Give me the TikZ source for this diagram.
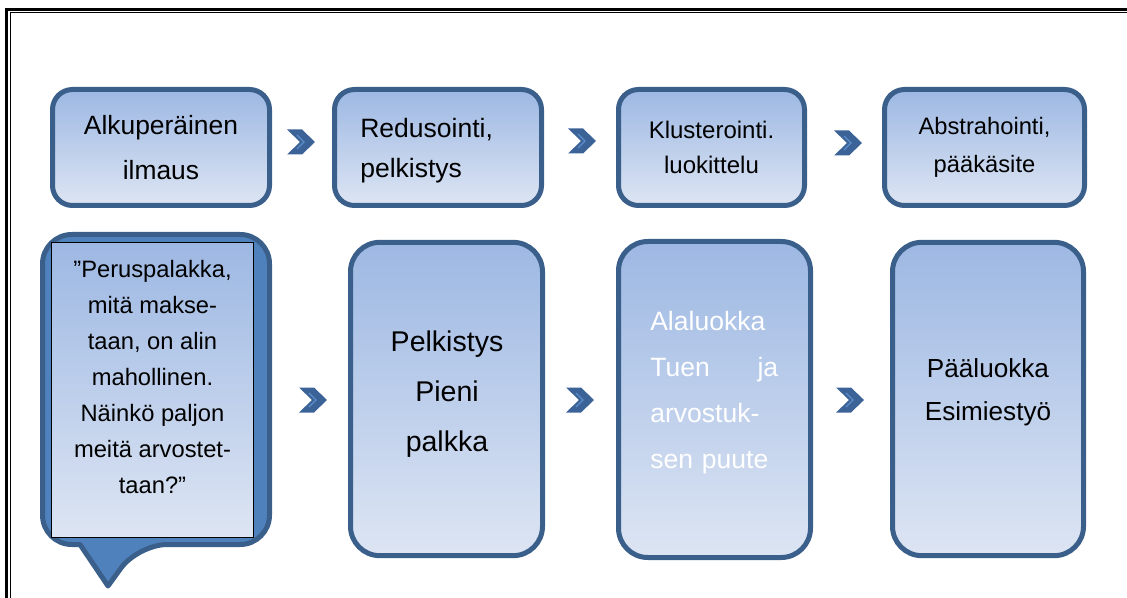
\documentclass[tikz,border=0pt]{standalone}
\usepackage{fontspec}
\setmainfont{Liberation Sans}
\definecolor{bordc}{RGB}{58,95,139}
\definecolor{gtop}{RGB}{157,184,227}
\definecolor{gbot}{RGB}{221,229,243}
\definecolor{callc}{RGB}{79,129,189}
\definecolor{chevc}{RGB}{60,99,152}
\definecolor{chevl}{RGB}{92,140,202}
\tikzset{
  box/.style={draw=bordc, line width=3.75pt, rounded corners=15pt, top color=gtop, bottom color=gbot, inner sep=0pt, text=black, minimum height=87pt},
  tallbox/.style={draw=bordc, line width=3.75pt, rounded corners=22pt, top color=gtop, bottom color=gbot, inner sep=0pt, minimum width=144pt, minimum height=235pt},
  txt/.style={inner sep=0pt, text=black},
  callout/.style={draw=bordc, line width=3.75pt, fill=callc, line join=round},
  chev/.pic={
    \fill[chevc] (-14,-12.5) -- (1,-12.5) -- (14,0) -- (1,12.5) -- (-14,12.5) -- (-1,0) -- cycle;
    \draw[chevl, line width=0.9pt] (-4,-7) -- (3,0) -- (-4,7);
  }
}
\begin{document}
\begin{tikzpicture}[x=0.75pt,y=-0.75pt]
\useasboundingbox (0,0) rectangle (1127,598);
% page frame
\draw[line width=2.4pt] (6.8,598) -- (6.8,9.2) -- (1127,9.2);
\draw[line width=0.9pt] (10.6,598) -- (10.6,12.8) -- (1127,12.8);

% top row
\node[box, minimum width=162.75pt, align=center, font=\fontsize{19.8pt}{33.75pt}\selectfont] (b1) at (161,147.5) {Alkuperäinen\\ilmaus};
\node[box, minimum width=155.25pt] (b2) at (438,147.5) {};
\node[txt, anchor=west, align=left, text width=117pt, font=\fontsize{19.9pt}{30pt}\selectfont] (b2t) at (360,151) {Redusointi,\\pelkistys};
\node[box, minimum width=139.5pt, align=center, font=\fontsize{18pt}{26.5pt}\selectfont] (b3) at (711.5,147.5) {Klusterointi.\\luokittelu};
\node[box, minimum width=150pt, align=center, font=\fontsize{17.8pt}{29pt}\selectfont] (b4) at (984.5,147.5) {Abstrahointi,\\pääkäsite};

\pic at (301,142) {chev};
\pic at (582,141) {chev};
\pic at (848,143) {chev};

% callout
\draw[callout] (80,544.5) [rounded corners=22pt] -- (42.5,544.5) -- (42.5,234.5) -- (269.5,234.5) -- (269.5,544.5) -- (138,544.5) [sharp corners] -- (108,586) -- cycle;
\node[draw=black, line width=0.75pt, top color=gtop, bottom color=gbot, minimum width=151.5pt, minimum height=221.5pt, inner sep=0pt] (quote) at (152.5,390) {};
\node[txt, align=center, font=\fontsize{17.8pt}{27pt}\selectfont] (quotetxt) at (152.5,377) {”Peruspalakka,\\mitä makse-\\taan, on alin\\mahollinen.\\Näinkö paljon\\meitä arvostet-\\taan?”};

% bottom boxes
\node[tallbox] (p2) at (446.5,399) {};
\node[txt, align=center, font=\fontsize{21.4pt}{37.5pt}\selectfont] (p2t) at (447,394) {Pelkistys\\Pieni\\palkka};
\node[tallbox, minimum height=237pt] (p3) at (714.5,399.5) {};
\node[txt, text=white, anchor=west, align=left, text width=96pt, font=\fontsize{19.9pt}{34.5pt}\selectfont] (p3t) at (650,392.5) {Alaluokka\\Tuen\hfill ja\\arvostuk-\\sen puute};
\node[tallbox, minimum width=143.25pt] (p4) at (988,399) {};
\node[txt, align=center, font=\fontsize{19.6pt}{32.25pt}\selectfont] (p4t) at (988,392) {Pääluokka\\Esimiestyö};

\pic at (313,400) {chev};
\pic at (580,400) {chev};
\pic at (850,400) {chev};
\end{tikzpicture}
\end{document}
